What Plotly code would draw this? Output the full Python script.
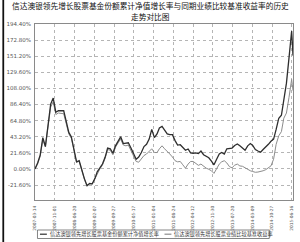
import plotly.graph_objects as go

# ---- data ----
dates = [
    "2007-03-14", "2007-04-14", "2007-05-14", "2007-06-14", "2007-07-14", "2007-08-14",
    "2007-09-14", "2007-10-14", "2007-11-14", "2007-12-14",
    "2008-01-14", "2008-02-14", "2008-03-14", "2008-04-14", "2008-05-14", "2008-06-14",
    "2008-07-14", "2008-08-14", "2008-09-14", "2008-10-14", "2008-11-14", "2008-12-14",
    "2009-01-14", "2009-02-14", "2009-03-14", "2009-04-14", "2009-05-14", "2009-06-14",
    "2009-07-14", "2009-08-14", "2009-09-14", "2009-10-14", "2009-11-14", "2009-12-14",
    "2010-01-14", "2010-02-14", "2010-03-14", "2010-04-14", "2010-05-14", "2010-06-14",
    "2010-07-14", "2010-08-14", "2010-09-14", "2010-10-14", "2010-11-14", "2010-12-14",
    "2011-01-14", "2011-02-14", "2011-03-14", "2011-04-14", "2011-05-14", "2011-06-14",
    "2011-07-14", "2011-08-14", "2011-09-14", "2011-10-14", "2011-11-14", "2011-12-14",
    "2012-01-14", "2012-02-14", "2012-03-14", "2012-04-14", "2012-05-14", "2012-06-14",
    "2012-07-14", "2012-08-14", "2012-09-14", "2012-10-14", "2012-11-14", "2012-12-14",
    "2013-01-14", "2013-02-14", "2013-03-14", "2013-04-14", "2013-05-14", "2013-06-14",
    "2013-07-14", "2013-08-14", "2013-09-14", "2013-10-14", "2013-11-14", "2013-12-14",
    "2014-01-14", "2014-02-14", "2014-03-14", "2014-04-14", "2014-05-14", "2014-06-14",
    "2014-07-14", "2014-08-14", "2014-09-14", "2014-10-14", "2014-11-14", "2014-12-14",
    "2015-01-14", "2015-02-14", "2015-03-14", "2015-04-14", "2015-05-14", "2015-06-14",
    "2015-06-22", "2015-06-30",
]

fund = [
    0, 8, 18.5, 42, 30, 57, 87, 95, 76, 78,
    78, 78, 64, 49, 43, 24, 9.5, 11, -2, -13,
    -22.5, -19.5, -20, -13, -4, 1, 6.5, 15.5, 28, 27,
    21, 31, 37.5, 43, 34, 34, 35, 28, 21, 13,
    16, 22, 30, 33, 40, 53, 42, 47, 55, 57,
    52, 47, 46, 46, 38, 32, 32.5, 29, 25, 26.7,
    21.5, 21, 21.5, 20.5, 24, 19, 17, 15, 10.5, 5.5,
    13, 20, 22, 20, 27, 28, 28, 31.5, 33.5, 31,
    27.5, 25, 31, 34, 31.5, 26, 24, 22.5, 26, 29,
    33, 37, 40, 53, 68, 72, 91, 115, 149, 185,
    170, 152,
]

bench = [
    0, 7, 17, 39, 30, 55, 83, 90, 73, 75,
    74, 74, 61, 47, 41, 23, 9, 10, -3, -14,
    -23, -20, -20.5, -13.5, -5, 0, 5, 14, 26, 25,
    19, 29, 35, 40, 32, 31, 32, 25, 18, 10,
    9, 13, 18, 20, 24, 27, 22, 22, 27, 31,
    27, 24, 20, 16, 11, 9.5, 10, 5.5, 1, 6.5,
    10, 10, 7.5, 4.8, 6.5, 3.5, 1, -0.5, -2.5, -6,
    0.5, 6.5, 9.5, 11, 8, 3, 1.5, 5, 6.5, 4,
    3.5, 1.5, -1, -2.5, -3.5, -4.5, -4.2, -3.6, -2.5, -1,
    1, 4, 13, 33, 44.5, 50, 68, 75, 96, 120,
    113, 105,
]

xtick_labels = [
    "2007-03-14", "2007-11-01", "2008-06-20", "2009-02-07", "2009-09-27",
    "2010-05-17", "2011-01-04", "2011-08-24", "2012-04-12", "2012-11-30",
    "2013-07-20", "2014-03-09", "2014-10-27", "2015-06-16",
]

ytick_vals = [-21.6, 0, 21.6, 43.2, 64.8, 86.4, 108.0, 129.6, 151.2, 172.8, 194.4]
ytick_labels = ["-21.60%", "0.00%", "21.60%", "43.20%", "64.80%", "86.40%",
                "108.00%", "129.60%", "151.20%", "172.80%", "194.40%"]

title_line1 = "信达澳银领先增长股票基金份额累计净值增长率与同期业绩比较基准收益率的历史"
title_line2 = "走势对比图"
name_fund = "信达澳银领先增长股票基金份额累计净值增长率"
name_bench = "信达澳银领先增长股票业绩比较基准收益率"

FUND_COLOR = "#2e2e2e"
BENCH_COLOR = "#8c8c8c"
CJK = "Noto Sans CJK SC"

# ---- figure ----
W, H = 300, 242
L, R, T, B = 33, 6, 24, 42
pw, ph = W - L - R, H - T - B


def px(x):
    return (x - L) / pw


def py(y):
    return (H - B - y) / ph


fig = go.Figure()
fig.add_trace(go.Scatter(x=dates, y=bench, mode="lines", name=name_bench,
                         line=dict(color=BENCH_COLOR, width=1)))
fig.add_trace(go.Scatter(x=dates, y=fund, mode="lines", name=name_fund,
                         line=dict(color=FUND_COLOR, width=1.3)))

fig.update_layout(
    width=W, height=H,
    margin=dict(l=L, r=R, t=T, b=B, pad=0),
    paper_bgcolor="white", plot_bgcolor="white",
    showlegend=False,
    font=dict(family=CJK, color="#333"),
)

fig.update_xaxes(
    type="date", range=[dates[0], dates[-1]],
    tickvals=xtick_labels, ticktext=xtick_labels, tickangle=-90,
    tickfont=dict(size=4.3, color="#555", family="DejaVu Sans"),
    showgrid=True, gridcolor="#b5b5b5", griddash="dot", gridwidth=0.7,
    showline=True, linecolor="#8a8a8a", linewidth=1, mirror=True,
    ticks="", zeroline=False, ticklabelstandoff=3,
)
fig.update_yaxes(
    range=[-41.7, 194.4],
    tickvals=ytick_vals, ticktext=ytick_labels,
    tickfont=dict(size=5.5, color="#555", family="DejaVu Sans"),
    showgrid=True, gridcolor="#b5b5b5", griddash="dot", gridwidth=0.7,
    showline=True, linecolor="#8a8a8a", linewidth=1, mirror=True,
    ticks="", zeroline=False, ticklabelstandoff=2,
)

annotations = [
    dict(text=title_line1, x=px(150), xref="paper", y=py(6), yref="paper",
         xanchor="center", yanchor="middle", showarrow=False,
         font=dict(size=7.7, color="#111", family=CJK)),
    dict(text=title_line2, x=px(150), xref="paper", y=py(16), yref="paper",
         xanchor="center", yanchor="middle", showarrow=False,
         font=dict(size=7.7, color="#111", family=CJK)),
    dict(text=name_fund, x=px(46), xref="paper", y=py(234.2), yref="paper",
         xanchor="left", yanchor="middle", showarrow=False,
         font=dict(size=5.2, color="#333", family=CJK)),
    dict(text=name_bench, x=px(172), xref="paper", y=py(234.2), yref="paper",
         xanchor="left", yanchor="middle", showarrow=False,
         font=dict(size=5.2, color="#333", family=CJK)),
]

shapes = [
    # legend box
    dict(type="rect", xref="paper", yref="paper", x0=px(35.5), x1=px(270),
         y0=py(238.5), y1=py(230), line=dict(color="#666", width=0.8),
         fillcolor="rgba(0,0,0,0)"),
    dict(type="line", xref="paper", yref="paper", x0=px(38), x1=px(45),
         y0=py(234.2), y1=py(234.2), line=dict(color=FUND_COLOR, width=1.2)),
    dict(type="line", xref="paper", yref="paper", x0=px(164), x1=px(171),
         y0=py(234.2), y1=py(234.2), line=dict(color=BENCH_COLOR, width=1.2)),
    # dark left edge of the scanned image
    dict(type="rect", xref="paper", yref="paper", x0=px(0), x1=px(1.8),
         y0=py(H), y1=py(0), line=dict(width=0), fillcolor="#111"),
]

fig.update_layout(annotations=annotations, shapes=shapes)

fig.write_html("out.html")
